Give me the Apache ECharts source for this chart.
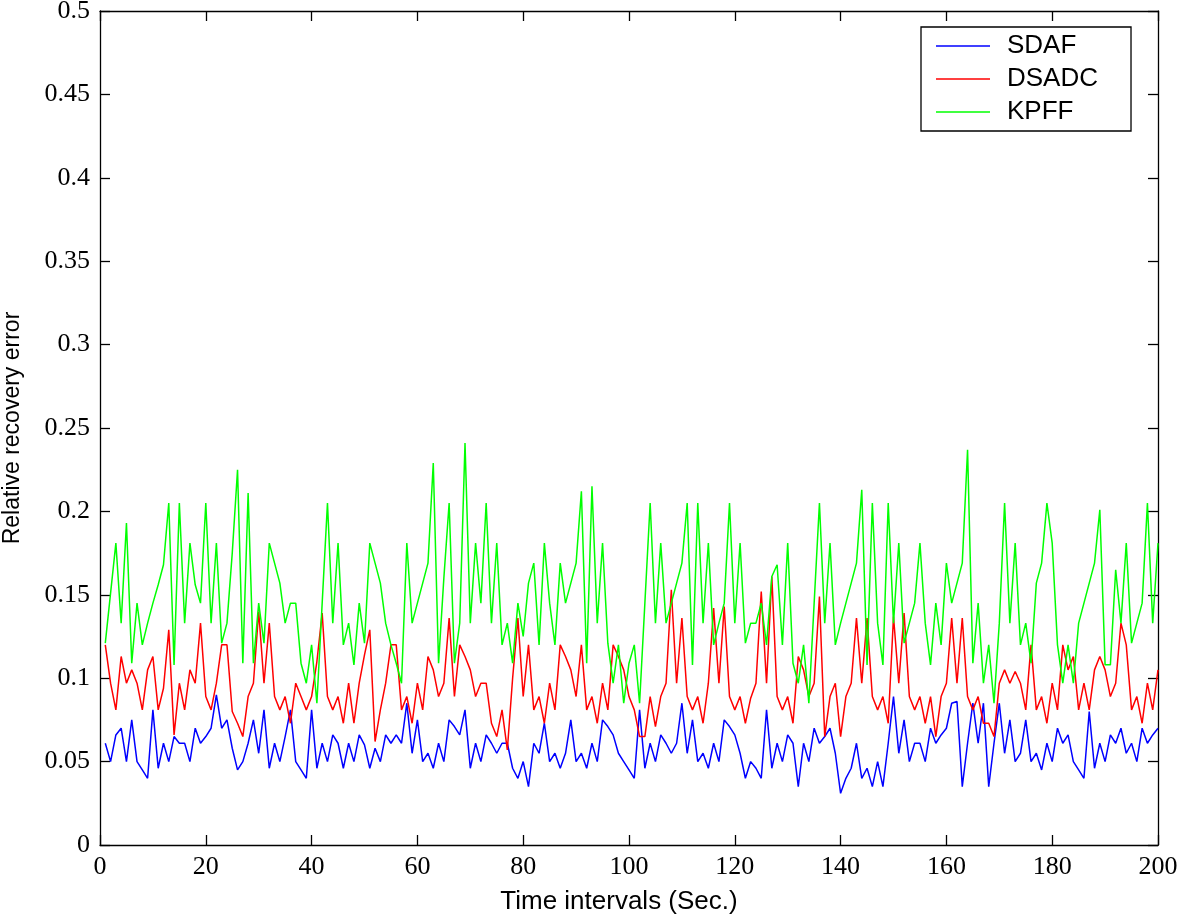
<!DOCTYPE html>
<html>
<head>
    <meta charset="utf-8">
    <title>Relative recovery error</title>
    <script src="https://cdn.jsdelivr.net/npm/echarts@6/dist/echarts.min.js"></script>
    <style>
      body, canvas {
        padding: 0;
        margin: 0;
        background: #ffffff;
      }
    </style>
</head>
<body>
  <div id="main"></div>
  <script type="text/javascript">
    // values, one per time step 1..200
    var sdaf = [
      0.061, 0.050, 0.066, 0.070, 0.050, 0.075, 0.050, 0.045, 0.040, 0.081,
      0.046, 0.061, 0.050, 0.065, 0.061, 0.061, 0.050, 0.070, 0.061, 0.065,
      0.070, 0.090, 0.070, 0.075, 0.058, 0.045, 0.050, 0.061, 0.075, 0.055,
      0.081, 0.046, 0.061, 0.050, 0.065, 0.081, 0.050, 0.045, 0.040, 0.081,
      0.046, 0.061, 0.050, 0.066, 0.061, 0.046, 0.061, 0.050, 0.066, 0.060,
      0.046, 0.058, 0.050, 0.066, 0.061, 0.066, 0.061, 0.085, 0.055, 0.075,
      0.050, 0.055, 0.046, 0.061, 0.050, 0.075, 0.071, 0.066, 0.081, 0.046,
      0.061, 0.050, 0.066, 0.061, 0.055, 0.061, 0.061, 0.046, 0.040, 0.050,
      0.035, 0.061, 0.055, 0.073, 0.050, 0.055, 0.046, 0.055, 0.075, 0.050,
      0.055, 0.046, 0.061, 0.050, 0.075, 0.071, 0.066, 0.055, 0.050, 0.045,
      0.040, 0.081, 0.046, 0.061, 0.050, 0.066, 0.061, 0.055, 0.061, 0.085,
      0.055, 0.075, 0.050, 0.055, 0.046, 0.061, 0.050, 0.075, 0.071, 0.066,
      0.055, 0.040, 0.050, 0.046, 0.040, 0.081, 0.046, 0.061, 0.050, 0.066,
      0.061, 0.035, 0.061, 0.050, 0.070, 0.061, 0.065, 0.070, 0.055, 0.031,
      0.040, 0.046, 0.061, 0.040, 0.046, 0.035, 0.050, 0.035, 0.061, 0.089,
      0.055, 0.075, 0.050, 0.061, 0.061, 0.050, 0.070, 0.061, 0.066, 0.070,
      0.085, 0.086, 0.035, 0.061, 0.085, 0.061, 0.085, 0.035, 0.061, 0.085,
      0.055, 0.075, 0.050, 0.055, 0.075, 0.050, 0.055, 0.045, 0.061, 0.050,
      0.070, 0.061, 0.066, 0.050, 0.045, 0.040, 0.080, 0.046, 0.061, 0.050,
      0.066, 0.061, 0.070, 0.055, 0.061, 0.050, 0.070, 0.061, 0.066, 0.070
    ]
    var dsadc = [
      0.120, 0.097, 0.081, 0.113, 0.097, 0.105, 0.097, 0.081, 0.105, 0.113,
      0.081, 0.094, 0.129, 0.066, 0.097, 0.081, 0.105, 0.097, 0.133, 0.089,
      0.081, 0.097, 0.120, 0.120, 0.080, 0.073, 0.065, 0.089, 0.097, 0.140,
      0.097, 0.133, 0.089, 0.081, 0.089, 0.073, 0.097, 0.089, 0.081, 0.089,
      0.110, 0.139, 0.089, 0.081, 0.089, 0.073, 0.097, 0.073, 0.097, 0.114,
      0.129, 0.062, 0.081, 0.097, 0.120, 0.120, 0.081, 0.089, 0.073, 0.097,
      0.081, 0.113, 0.105, 0.089, 0.097, 0.136, 0.089, 0.120, 0.113, 0.105,
      0.089, 0.097, 0.097, 0.073, 0.065, 0.081, 0.057, 0.100, 0.136, 0.089,
      0.120, 0.081, 0.089, 0.073, 0.097, 0.081, 0.120, 0.113, 0.105, 0.089,
      0.120, 0.081, 0.089, 0.073, 0.097, 0.081, 0.120, 0.113, 0.105, 0.089,
      0.081, 0.065, 0.065, 0.089, 0.071, 0.089, 0.097, 0.153, 0.097, 0.136,
      0.089, 0.081, 0.089, 0.073, 0.097, 0.142, 0.097, 0.143, 0.089, 0.081,
      0.089, 0.073, 0.088, 0.097, 0.152, 0.097, 0.161, 0.089, 0.081, 0.089,
      0.073, 0.113, 0.105, 0.089, 0.097, 0.149, 0.065, 0.089, 0.097, 0.065,
      0.089, 0.097, 0.136, 0.097, 0.136, 0.089, 0.081, 0.089, 0.073, 0.137,
      0.097, 0.139, 0.089, 0.081, 0.089, 0.073, 0.089, 0.065, 0.089, 0.097,
      0.136, 0.097, 0.136, 0.089, 0.081, 0.089, 0.073, 0.073, 0.065, 0.097,
      0.105, 0.097, 0.104, 0.097, 0.081, 0.120, 0.081, 0.089, 0.073, 0.097,
      0.081, 0.120, 0.105, 0.113, 0.081, 0.097, 0.081, 0.105, 0.113, 0.105,
      0.089, 0.097, 0.133, 0.120, 0.081, 0.089, 0.073, 0.097, 0.081, 0.105
    ]
    var kpff = [
      0.121, 0.151, 0.181, 0.133, 0.193, 0.109, 0.145, 0.120, 0.133, 0.145,
      0.156, 0.168, 0.205, 0.108, 0.205, 0.133, 0.181, 0.156, 0.145, 0.205,
      0.133, 0.181, 0.121, 0.133, 0.175, 0.225, 0.109, 0.211, 0.109, 0.145,
      0.121, 0.181, 0.169, 0.157, 0.133, 0.145, 0.145, 0.109, 0.097, 0.120,
      0.085, 0.145, 0.205, 0.133, 0.181, 0.120, 0.133, 0.108, 0.145, 0.121,
      0.181, 0.169, 0.157, 0.133, 0.120, 0.109, 0.097, 0.181, 0.133, 0.145,
      0.157, 0.169, 0.229, 0.109, 0.160, 0.205, 0.109, 0.133, 0.241, 0.133,
      0.181, 0.145, 0.205, 0.133, 0.181, 0.120, 0.133, 0.109, 0.145, 0.125,
      0.157, 0.169, 0.120, 0.181, 0.145, 0.120, 0.169, 0.145, 0.157, 0.169,
      0.212, 0.109, 0.215, 0.133, 0.181, 0.121, 0.097, 0.120, 0.085, 0.109,
      0.120, 0.085, 0.145, 0.205, 0.133, 0.181, 0.133, 0.145, 0.157, 0.169,
      0.205, 0.108, 0.205, 0.133, 0.181, 0.120, 0.133, 0.145, 0.205, 0.133,
      0.181, 0.121, 0.133, 0.133, 0.145, 0.120, 0.161, 0.168, 0.120, 0.181,
      0.109, 0.097, 0.120, 0.085, 0.145, 0.205, 0.133, 0.181, 0.120, 0.133,
      0.145, 0.157, 0.169, 0.213, 0.108, 0.205, 0.133, 0.108, 0.205, 0.133,
      0.181, 0.121, 0.133, 0.145, 0.181, 0.133, 0.108, 0.145, 0.120, 0.169,
      0.145, 0.157, 0.169, 0.237, 0.109, 0.145, 0.097, 0.120, 0.085, 0.133,
      0.205, 0.133, 0.181, 0.120, 0.133, 0.109, 0.157, 0.169, 0.205, 0.181,
      0.120, 0.097, 0.120, 0.097, 0.133, 0.145, 0.157, 0.169, 0.201, 0.108,
      0.108, 0.165, 0.133, 0.181, 0.121, 0.133, 0.145, 0.205, 0.133, 0.181
    ]
    var names = ['SDAF', 'DSADC', 'KPFF']
    var colors = ['#0000ff', '#ff0000', '#00ff00']

    const main = document.getElementById('main')
    main.style.width = window.innerWidth + 'px'
    main.style.height = window.innerHeight + 'px'
    var myChart = echarts.init(main)

    // time steps start at 1
    var pairs = function (arr) {
      return arr.map((v, i) => [i + 1, v])
    }

    var serif = 'Liberation Serif'
    var sans = 'Liberation Sans'

    var boxAxis = function (pos, show) {
      return {
        type: 'value',
        position: pos,
        min: 0,
        max: 200,
        interval: 20,
        axisLine: { show: true, onZero: false, lineStyle: { color: '#000', width: 1.3 } },
        axisTick: { show: true, inside: true, length: 10, lineStyle: { color: '#000', width: 1.3 } },
        axisLabel: { show: show, margin: 9, color: '#000', fontFamily: serif, fontSize: 26 },
        splitLine: { show: false }
      }
    }
    var boxYAxis = function (pos, show) {
      return {
        type: 'value',
        position: pos,
        min: 0,
        max: 0.5,
        interval: 0.05,
        axisLine: { show: true, onZero: false, lineStyle: { color: '#000', width: 1.3 } },
        axisTick: { show: true, inside: true, length: 10, lineStyle: { color: '#000', width: 1.3 } },
        axisLabel: { show: show, margin: 10, color: '#000', fontFamily: serif, fontSize: 26 },
        splitLine: { show: false }
      }
    }

    var xBottom = boxAxis('bottom', true)
    xBottom.name = 'Time intervals (Sec.)'
    xBottom.nameLocation = 'middle'
    xBottom.nameGap = 44
    xBottom.nameTextStyle = { color: '#000', fontFamily: sans, fontSize: 26, padding: [0, 20, 0, 0] }

    var yLeft = boxYAxis('left', true)
    yLeft.name = 'Relative recovery error'
    yLeft.nameLocation = 'middle'
    yLeft.nameGap = 76
    yLeft.nameTextStyle = { color: '#000', fontFamily: sans, fontSize: 23 }

    option = {
      animation: false,
      backgroundColor: '#ffffff',
      grid: { left: 100, right: 23, top: 11, bottom: 74, outerBoundsMode: 'none', containLabel: false },
      xAxis: [xBottom, boxAxis('top', false)],
      yAxis: [yLeft, boxYAxis('right', false)],
      legend: {
        orient: 'vertical',
        left: 921,
        top: 27,
        padding: [6, 33, 6, 15],
        icon: 'rect',
        itemWidth: 54,
        itemHeight: 1.5,
        itemGap: 7,
        backgroundColor: '#ffffff',
        borderColor: '#000',
        borderWidth: 1.3,
        borderRadius: 0,
        textStyle: { color: '#000', fontFamily: sans, fontSize: 26, lineHeight: 26, padding: [0, 0, 0, 12] },
        data: names
      },
      series: [sdaf, dsadc, kpff].map((arr, i) => ({
        name: names[i],
        type: 'line',
        symbol: 'none',
        xAxisIndex: 0,
        yAxisIndex: 0,
        data: pairs(arr),
        lineStyle: { color: colors[i], width: 1.5 },
        itemStyle: { color: colors[i] }
      }))
    }
    myChart.setOption(option)
  </script>
</body>
</html>
